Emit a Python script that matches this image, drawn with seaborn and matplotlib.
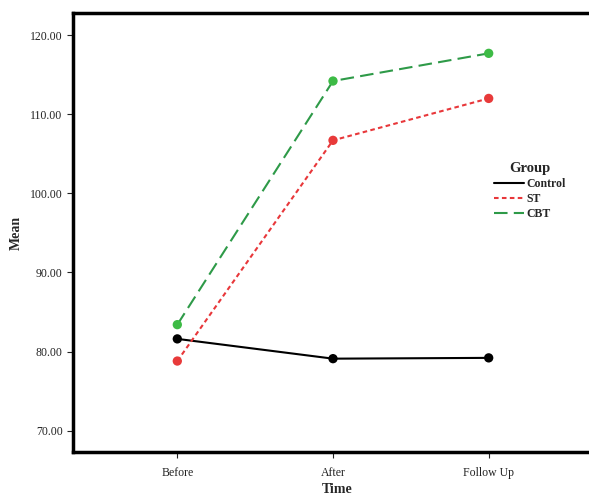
import matplotlib.pyplot as plt
import seaborn as sns
import pandas as pd

times = ["Before", "After", "Follow Up"]
groups = ["Control", "ST", "CBT"]
control = [81.6, 79.1, 79.2]
st = [78.8, 106.7, 112.0]
cbt = [83.4, 114.2, 117.7]

rows = []
for g, vals in zip(groups, [control, st, cbt]):
    for i, (t, v) in enumerate(zip(times, vals)):
        rows.append({"Time": t, "pos": i, "Group": g, "Mean": v})
df = pd.DataFrame(rows)

sns.set_style("white")
plt.rcParams['font.family'] = ['Liberation Serif', 'DejaVu Serif']

line_colors = {"Control": "#000000", "ST": "#e8373a", "CBT": "#2e9a48"}
dot_colors = {"Control": "#000000", "ST": "#e83a3a", "CBT": "#3dbb45"}
dashes = {"Control": "", "ST": (2.2, 1.6), "CBT": (6.5, 3)}

fig = plt.figure(figsize=(5.89, 4.99), dpi=100)
ax = fig.add_axes([73 / 589, 1 - 452 / 499, 1.02 - 73 / 589, (452 - 13) / 499])

sns.lineplot(data=df, x="pos", y="Mean", hue="Group", style="Group",
             palette=line_colors, dashes=dashes, linewidth=1.5, ax=ax,
             hue_order=groups, style_order=groups)
for g, vals in zip(groups, [control, st, cbt]):
    ax.scatter(range(len(times)), vals, s=45, color=dot_colors[g], zorder=5,
               edgecolor="none")

ax.set_xlim(-0.67, 2.72)
ax.set_ylim(67.3, 122.8)
ax.set_xticks(range(len(times)))
ax.set_xticklabels(times)
ax.set_yticks([70, 80, 90, 100, 110, 120])
ax.set_yticklabels([f"{v:.2f}" for v in [70, 80, 90, 100, 110, 120]])
ax.tick_params(axis="both", labelsize=8.5, direction="out", length=4, width=0.8,
               bottom=True, left=True, colors="#222222")
ax.tick_params(axis="x", pad=7)
for s in ax.spines.values():
    s.set_linewidth(2.5)
    s.set_color("black")

ax.set_xlabel("Time", fontsize=10, fontweight="bold", labelpad=3)
ax.set_ylabel("Mean", fontsize=10, fontweight="bold", labelpad=5)

leg = ax.legend(title="Group", loc="upper left", bbox_to_anchor=(0.777, 0.685),
                frameon=False, fontsize=8.5, handlelength=2.6, labelspacing=0.25,
                handletextpad=0.2)
leg.get_title().set_fontweight("bold")
leg.get_title().set_fontsize(10.5)
for t in leg.get_texts():
    t.set_fontweight("bold")
for h in leg.get_lines():
    h.set_linewidth(1.5)

fig.savefig("out.png", dpi=100)
